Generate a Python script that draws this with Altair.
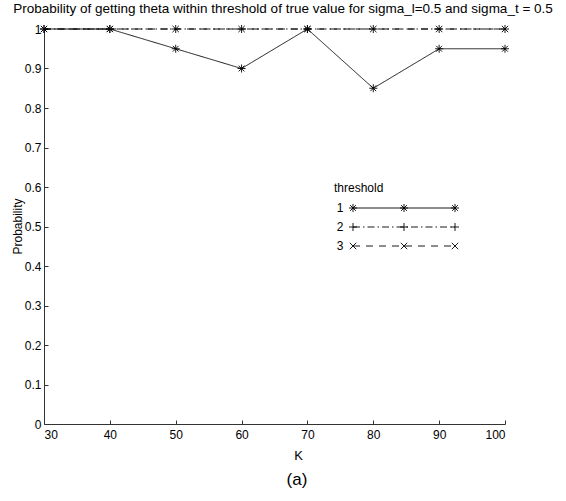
import altair as alt
import pandas as pd

# ---- data ----
K = [30, 40, 50, 60, 70, 80, 90, 100]
p_thr1 = [1.0, 1.0, 0.95, 0.90, 1.0, 0.85, 0.95, 0.95]
p_thr2 = [1.0, 1.0, 1.0, 1.0, 1.0, 1.0, 1.0, 1.0]
p_thr3 = [1.0, 1.0, 1.0, 1.0, 1.0, 1.0, 1.0, 1.0]
thresholds = ["1", "2", "3"]
x_ticks = [30, 40, 50, 60, 70, 80, 90, 100]
y_ticks = [0, 0.1, 0.2, 0.3, 0.4, 0.5, 0.6, 0.7, 0.8, 0.9, 1]

title_text = "Probability of getting theta within threshold of true value for sigma_l=0.5 and sigma_t = 0.5"
caption_text = "(a)"

rows = []
for name, vals in zip(thresholds, [p_thr1, p_thr2, p_thr3]):
    for k, v in zip(K, vals):
        rows.append({"K": k, "P": v, "threshold": name})
df = pd.DataFrame(rows)

FONT = "Liberation Sans"
W, H = 461, 395

ASTERISK = "M-1,0L1,0M0,-1L0,1M-0.72,-0.72L0.72,0.72M-0.72,0.72L0.72,-0.72"
PLUS = "M-1,0L1,0M0,-1L0,1"
XMARK = "M-0.8,-0.8L0.8,0.8M-0.8,0.8L0.8,-0.8"
shapes = {"1": ASTERISK, "2": PLUS, "3": XMARK}
dashes = {"1": [1, 0], "2": [7, 3, 1.5, 3], "3": [7, 6]}

xscale = alt.Scale(domain=[30, 100], nice=False, zero=False)
yscale = alt.Scale(domain=[0, 1], nice=False, zero=False)

x_main = alt.X("K:Q", scale=xscale, axis=alt.Axis(
    values=x_ticks, orient="bottom", ticks=False, grid=False, format="d",
    labelFont=FONT, labelFontSize=12, labelColor="black", labelPadding=5,
    domainColor="#333333", domainWidth=1,
    title="K", titleFont=FONT, titleFontSize=13, titleFontWeight="normal",
    titleColor="black", titleX=254, titleY=31, titleAlign="center",
    titleBaseline="middle"))
y_main = alt.Y("P:Q", scale=yscale, axis=alt.Axis(
    values=y_ticks, orient="left", ticks=False, grid=False, format="~g",
    labelFont=FONT, labelFontSize=12, labelColor="black", labelPadding=3,
    domainColor="#333333", domainWidth=1,
    title="Probability", titleFont=FONT, titleFontSize=12,
    titleFontWeight="normal", titleColor="black", titleX=-27, titleY=197,
    titleAlign="center", titleBaseline="middle", titleAngle=-90))

# inward tick marks via opposite axes pulled across the plot
x_tick = alt.X("K:Q", scale=xscale, axis=alt.Axis(
    values=x_ticks, orient="top", offset=-H, labels=False, domain=False,
    grid=False, tickSize=4, tickColor="#333333", title=None))
y_tick = alt.Y("P:Q", scale=yscale, axis=alt.Axis(
    values=y_ticks, orient="right", offset=-W, labels=False, domain=False,
    grid=False, tickSize=4, tickColor="#333333", title=None))

x_plain = alt.X("K:Q", scale=xscale, axis=None)
y_plain = alt.Y("P:Q", scale=yscale, axis=None)

layers = []
for i, t in enumerate(thresholds):
    sub = df[df["threshold"] == t]
    line = alt.Chart(sub).mark_line(
        color="black", strokeWidth=0.9, strokeDash=dashes[t]
    ).encode(x=x_main if i == 0 else x_plain,
             y=y_main if i == 0 else y_plain)
    pts = alt.Chart(sub).mark_point(
        shape=shapes[t], filled=False, color="black", strokeWidth=0.9,
        size=64, opacity=1
    ).encode(x=x_tick if i == 0 else x_plain,
             y=y_tick if i == 0 else y_plain)
    layers += [line, pts]

# legend (drawn inside the plot, like the original)
one = pd.DataFrame({"d": [0]})
leg_layers = [
    alt.Chart(one).mark_text(text="threshold", font=FONT, fontSize=12,
                             align="left", baseline="middle", color="black")
    .encode(x=alt.value(290), y=alt.value(159))
]
for i, t in enumerate(thresholds):
    yy = 179 + 19 * i
    leg_layers.append(
        alt.Chart(one).mark_text(text=t, font=FONT, fontSize=12, align="center",
                                 baseline="middle", color="black")
        .encode(x=alt.value(296), y=alt.value(yy)))
    leg_layers.append(
        alt.Chart(one).mark_rule(color="black", strokeWidth=0.9,
                                 strokeDash=dashes[t])
        .encode(x=alt.value(309), x2=alt.value(411), y=alt.value(yy)))
    for xx in [309, 360, 411]:
        leg_layers.append(
            alt.Chart(one).mark_point(shape=shapes[t], filled=False,
                                      color="black", strokeWidth=0.9,
                                      size=64, opacity=1)
            .encode(x=alt.value(xx), y=alt.value(yy)))

texts = [
    alt.Chart(one).mark_text(text=title_text, font=FONT, fontSize=13.5,
                             align="center", baseline="middle", color="black")
    .encode(x=alt.value(239), y=alt.value(-20)),
    alt.Chart(one).mark_text(text=caption_text, font=FONT, fontSize=17,
                             align="center", baseline="middle", color="black")
    .encode(x=alt.value(253), y=alt.value(451)),
]

chart = alt.layer(*layers, *leg_layers, *texts).properties(
    width=W, height=H,
    autosize=alt.AutoSizeParams(type="none"),
    padding={"left": 44, "top": 29, "right": 61, "bottom": 77},
    background="white",
).configure_view(stroke=None)

chart.save("out.html", embed_options={"renderer": "svg", "actions": False})
